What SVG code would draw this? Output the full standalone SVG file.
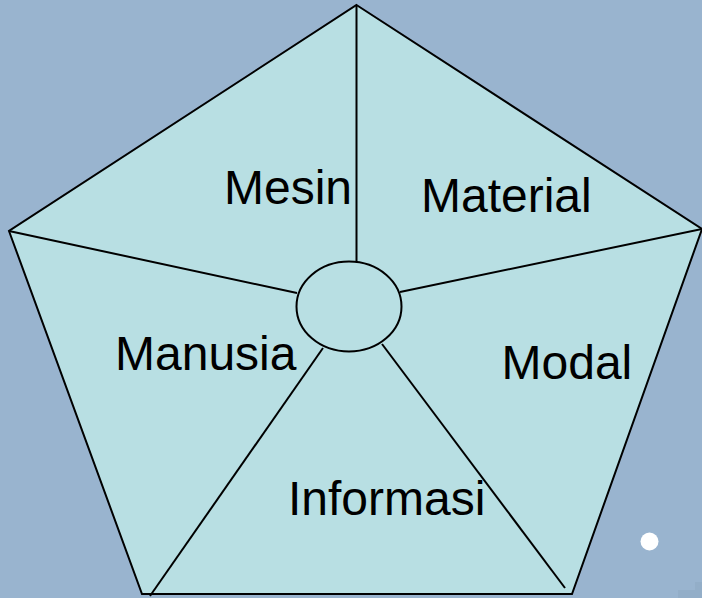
<svg xmlns="http://www.w3.org/2000/svg" width="702" height="598" viewBox="0 0 702 598">
<style>
.shape{fill:#B8DFE3;stroke:#000;stroke-width:2}
.conn line{stroke:#000;stroke-width:2;fill:none}
.lbl{font-family:"Liberation Sans",Arial,sans-serif;font-size:48px;fill:#000}
</style>
<rect x="0" y="0" width="702" height="598" fill="#99B4CF"/>
<polygon points="678,598 678,590 695,590 695,582 702,582 702,598" fill="#93AEC8"/>
<g id="pentagon">
<polygon class="shape" points="356.5,5 702,229 572,594 142,594 9,231" stroke-linejoin="miter"/>
</g>
<g id="connectors" class="conn">
<line x1="356.5" y1="5" x2="356.5" y2="262"/>
<line x1="702" y1="229" x2="400" y2="292"/>
<line x1="9" y1="231" x2="297" y2="293"/>
<line x1="150" y1="596" x2="323" y2="348"/>
<line x1="565" y1="588" x2="382" y2="344"/>
</g>
<g id="center">
<ellipse class="shape" cx="349" cy="306.5" rx="52.5" ry="45"/>
</g>
<g id="mesin"><text class="lbl" x="224" y="204">Mesin</text></g>
<g id="material"><text class="lbl" x="421" y="212">Material</text></g>
<g id="manusia"><text class="lbl" x="115" y="370">Manusia</text></g>
<g id="modal"><text class="lbl" x="501.5" y="379">Modal</text></g>
<g id="informasi"><text class="lbl" x="288" y="515">Informasi</text></g>
<circle cx="649.5" cy="541.5" r="9" fill="#fff"/>
</svg>
